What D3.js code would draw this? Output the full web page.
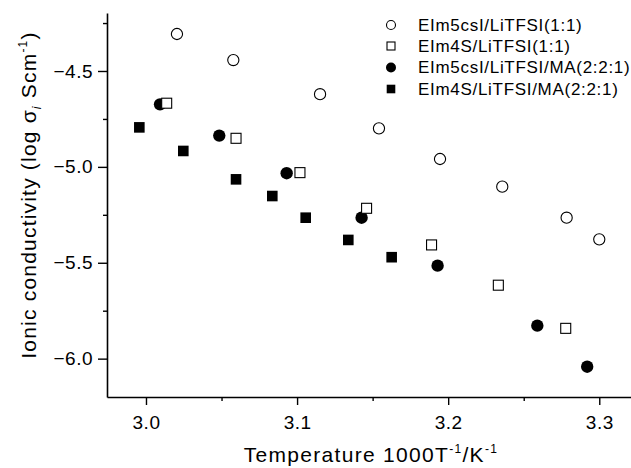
<!DOCTYPE html>
<html><head><meta charset="utf-8">
<script src="https://cdn.jsdelivr.net/npm/d3@7"></script>
<style>body{margin:0;background:#fff}svg{display:block}text{font-family:"Liberation Sans",Arial,sans-serif;fill:#000}</style>
</head><body><svg id="c" width="631" height="468"></svg>
<script>
const seriesNames = ["EIm5csI/LiTFSI(1:1)","EIm4S/LiTFSI(1:1)","EIm5csI/LiTFSI/MA(2:2:1)","EIm4S/LiTFSI/MA(2:2:1)"];
const s1x = [3.0205,3.0578,3.1152,3.1542,3.1946,3.2358,3.2784,3.3000];
const s1y = [-4.307,-4.443,-4.621,-4.799,-4.959,-5.103,-5.265,-5.378];
const s2x = [3.0137,3.0596,3.1019,3.1460,3.1890,3.2332,3.2778];
const s2y = [-4.668,-4.851,-5.030,-5.216,-5.407,-5.617,-5.842];
const s3x = [3.0093,3.0485,3.0931,3.1427,3.1930,3.2590,3.2920];
const s3y = [-4.674,-4.837,-5.033,-5.265,-5.515,-5.828,-6.042];
const s4x = [2.9956,3.0247,3.0596,3.0836,3.1057,3.1339,3.1626];
const s4y = [-4.794,-4.917,-5.065,-5.152,-5.265,-5.381,-5.471];
const xTicks = [3.0,3.1,3.2,3.3];
const yTicks = [-4.5,-5.0,-5.5,-6.0];

const svg = d3.select("#c");
const x = d3.scaleLinear().domain([2.9742,3.321]).range([107,631]);
const y = d3.scaleLinear().domain([-6.2,-4.1976]).range([397,13]);

const xMinor = d3.range(2.95,3.35,0.05).filter(v=>v>x.domain()[0]&&v<x.domain()[1]&&!xTicks.some(t=>Math.abs(t-v)<1e-6));
const yMinor = d3.range(-6.25,-4.1,0.25).filter(v=>v>y.domain()[0]&&v<y.domain()[1]&&!yTicks.some(t=>Math.abs(t-v)<1e-6));

const gx = svg.append("g").attr("transform","translate(0,397)");
gx.call(d3.axisBottom(x).tickValues(xTicks).tickFormat(d3.format(".1f")).tickSize(8).tickPadding(5).tickSizeOuter(0));
gx.append("g").call(d3.axisBottom(x).tickValues(xMinor).tickFormat("").tickSize(4).tickSizeOuter(0)).select(".domain").remove();
const gy = svg.append("g").attr("transform","translate(107,0)");
gy.call(d3.axisLeft(y).tickValues(yTicks).tickFormat(d3.format(".1f")).tickSize(9).tickPadding(5).tickSizeOuter(0));
gy.append("g").call(d3.axisLeft(y).tickValues(yMinor).tickFormat("").tickSize(4).tickSizeOuter(0)).select(".domain").remove();
svg.selectAll(".domain").attr("stroke","#000").attr("stroke-width",1.6);
svg.selectAll(".tick line").attr("stroke","#000").attr("stroke-width",1.4);
svg.selectAll(".tick text").attr("font-size",19).style("letter-spacing","0.5px").style("font-family","Liberation Sans, Arial");
gx.selectAll(".tick text").attr("dy","1.0em");

function pts(xs,ys){return xs.map((v,i)=>[v,ys[i]]);}
const g = svg.append("g");
g.selectAll(".s1").data(pts(s1x,s1y)).enter().append("circle")
 .attr("cx",d=>x(d[0])).attr("cy",d=>y(d[1])).attr("r",5.6).attr("fill","#fff").attr("stroke","#000").attr("stroke-width",1.1);
g.selectAll(".s3").data(pts(s3x,s3y)).enter().append("circle")
 .attr("cx",d=>x(d[0])).attr("cy",d=>y(d[1])).attr("r",6.2).attr("fill","#000");
g.selectAll(".s4").data(pts(s4x,s4y)).enter().append("rect")
 .attr("x",d=>x(d[0])-5.3).attr("y",d=>y(d[1])-5.3).attr("width",10.6).attr("height",10.6).attr("fill","#000");
g.selectAll(".s2").data(pts(s2x,s2y)).enter().append("rect")
 .attr("x",d=>x(d[0])-5).attr("y",d=>y(d[1])-5).attr("width",10).attr("height",10).attr("fill","#fff").attr("stroke","#000").attr("stroke-width",1.1);

// legend
const leg = svg.append("g");
const ly = [25,46,67.5,89];
seriesNames.forEach((n,i)=>{
  const cx=391, cy=ly[i];
  if(i===0) leg.append("circle").attr("cx",cx).attr("cy",cy).attr("r",4.5).attr("fill","#fff").attr("stroke","#000").attr("stroke-width",1.1);
  if(i===1) leg.append("rect").attr("x",cx-4).attr("y",cy-4).attr("width",8).attr("height",8).attr("fill","#fff").attr("stroke","#000").attr("stroke-width",1.1);
  if(i===2) leg.append("circle").attr("cx",cx).attr("cy",cy).attr("r",5).attr("fill","#000");
  if(i===3) leg.append("rect").attr("x",cx-4.3).attr("y",cy-4.3).attr("width",8.6).attr("height",8.6).attr("fill","#000");
  leg.append("text").attr("x",418).attr("y",cy+5.5).attr("font-size",17).style("letter-spacing","0.7px").text(n);
});

// axis titles
const xt = svg.append("text").attr("x",371).attr("y",462).attr("text-anchor","middle").attr("font-size",21).style("letter-spacing","1.3px");
xt.append("tspan").text("Temperature 1000T");
xt.append("tspan").attr("font-size",12).attr("dy",-9).text("-1");
xt.append("tspan").attr("dy",9).text("/K");
xt.append("tspan").attr("font-size",12).attr("dy",-9).text("-1");

const yt = svg.append("text").attr("transform","translate(36,195) rotate(-90)").attr("text-anchor","middle").attr("font-size",21).style("letter-spacing","1.2px");
yt.append("tspan").text("Ionic conductivity (log σ");
yt.append("tspan").attr("font-size",12).attr("font-style","italic").attr("dy",5).text("i");
yt.append("tspan").attr("dy",-5).text(" Scm");
yt.append("tspan").attr("font-size",12).attr("dy",-9).text("-1");
yt.append("tspan").attr("dy",9).text(")");
</script></body></html>
